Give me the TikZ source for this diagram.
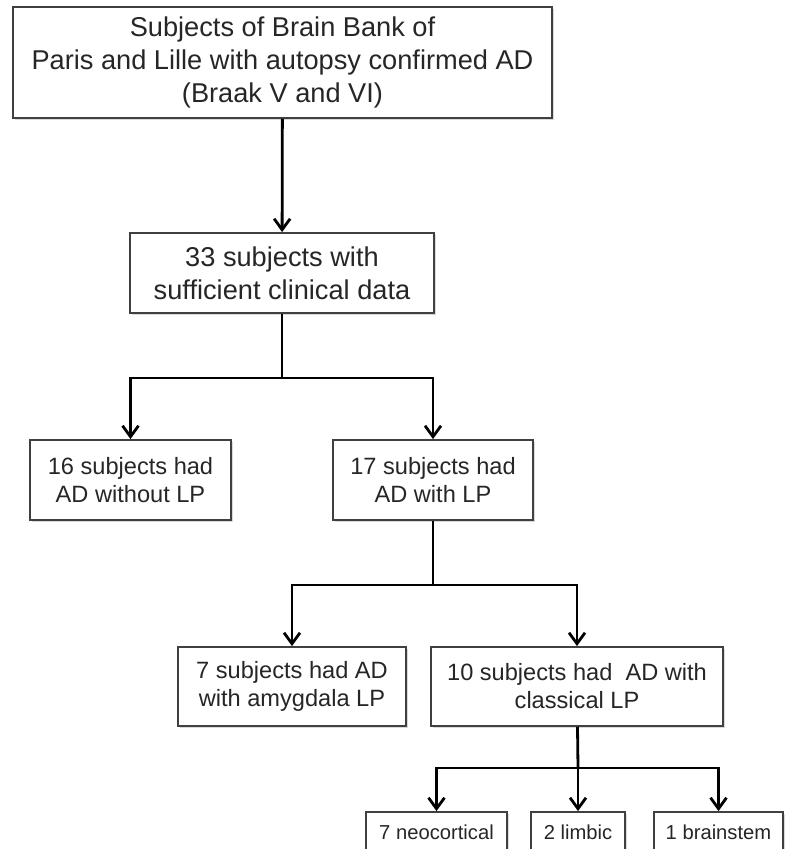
\documentclass[tikz,border=0pt]{standalone}
\usepackage{fontspec}
\setsansfont{Liberation Sans}
\usepackage{tikz}
\usetikzlibrary{arrows,arrows.meta,shadows}

\begin{document}
\begin{tikzpicture}[x=0.5pt,y=-0.5pt,
                    main node/.style={rectangle,draw=black!75,line width=0.9pt,fill=white,
                      drop shadow={shadow xshift=0.8pt,shadow yshift=-0.8pt,opacity=0.3},
                      align=center,inner sep=0pt,text=black!85,
                      font=\sffamily\fontsize{11.8}{14}\selectfont},
                    big node/.style={main node,font=\sffamily\fontsize{13.6}{16.5}\selectfont},
                    leaf node/.style={main node,minimum height=20pt,
                      font=\sffamily\fontsize{10.1}{12}\selectfont},
                    flow/.style={line width=1.4pt},
                    flow arrow/.style={flow,-{Straight Barb[length=5.5pt,width=8pt]}}]

  \useasboundingbox (0,0) rectangle (786,849);

  \node[big node,minimum width=269.5pt,minimum height=55.5pt] (top) at (282.5,62.5)
    {\rule{0pt}{8pt}Subjects of Brain Bank of\\Paris and Lille with autopsy confirmed AD\\(Braak V and VI)};
  \node[big node,minimum width=152pt,minimum height=40pt] (data) at (282,273)
    {33 subjects with\\sufficient clinical data};
  \node[main node,minimum width=100.5pt,minimum height=40pt] (noLP) at (130.5,480)
    {16 subjects had\\AD without LP};
  \node[main node,minimum width=100pt,minimum height=40pt] (withLP) at (433,480)
    {17 subjects had\\AD with LP};
  \node[main node,minimum width=114pt,minimum height=39.5pt] (amyg) at (292,686.5)
    {7 subjects had AD\\with amygdala LP};
  \node[main node,minimum width=146pt,minimum height=39.5pt] (classic) at (577,686.5)
    {10 subjects had~ AD with\\classical LP};
  \node[leaf node,minimum width=70.5pt] (neo) at (436.5,832) {7 neocortical};
  \node[leaf node,minimum width=47pt] (limbic) at (578,832) {2 limbic};
  \node[leaf node,minimum width=64.5pt] (brain) at (718.5,832) {1 brainstem};

  % branching points
  \coordinate (j1) at (282,378);
  \coordinate (j2) at (433,585);
  \coordinate (j3) at (578,768);

  \draw[flow arrow] (top) -- (data);
  \draw[flow] (data) -- (j1);
  \draw[flow arrow] (j1) -| (noLP);
  \draw[flow arrow] (j1) -| (withLP);
  \draw[flow] (withLP) -- (j2);
  \draw[flow arrow] (j2) -| (amyg);
  \draw[flow arrow] (j2) -| (classic);
  \draw[flow] (classic) -- (j3);
  \draw[flow arrow] (j3) -| (neo);
  \draw[flow arrow] (j3) -- (limbic);
  \draw[flow arrow] (j3) -| (brain);
\end{tikzpicture}
\end{document}
